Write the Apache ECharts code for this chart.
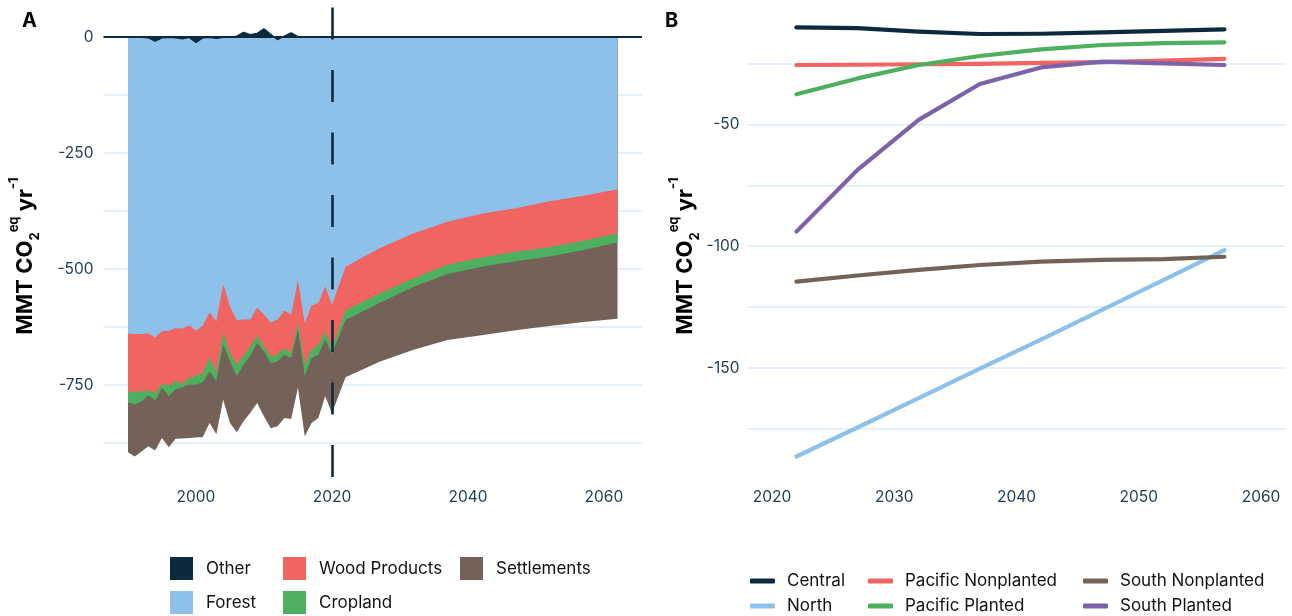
<!DOCTYPE html>
<html><head><meta charset="utf-8">
<script src="https://cdn.jsdelivr.net/npm/echarts@6/dist/echarts.min.js"></script>
<style>html,body{margin:0;padding:0;background:#fff}#c{width:1292px;height:616px}</style>
</head><body><div id="c"></div>
<script>
// ---------- Panel A data ----------
const yearsA = [1990,1991,1992,1993,1994,1995,1996,1997,1998,1999,
  2000,2001,2002,2003,2004,2005,2006,2007,2008,2009,
  2010,2011,2012,2013,2014,2015,2016,2017,2018,2019,
  2020,2022,2027,2032,2037,2042,2047,2052,2057,2062];
const forest = [-639,-640,-640,-639,-647,-634,-633,-627,-628,-621,
  -633,-622,-593,-613,-532,-580,-611,-608,-609,-583,
  -598,-615,-609,-590,-598,-523,-617,-578,-573,-537,
  -577,-495,-455,-423,-398,-381,-369,-354,-342,-328];
const woodProducts = [-125,-125,-123,-123,-120,-113,-118,-115,-119,-114,
  -97,-102,-97,-110,-106,-101,-95,-79,-58,-61,
  -69,-73,-76,-80,-83,-93,-89,-96,-90,-97,
  -93,-94,-98,-97,-93,-94,-94,-99,-97,-95];
const cropland = [-23,-27,-22,-10,-17,-9,-23,-17,-8,-14,
  -19,-20,-31,-19,-25,-18,-25,-19,-20,-15,
  -10,-15,-14,-15,-11,-15,-25,-18,-22,-18,
  -12,-21,-20,-18,-20,-20,-20,-20,-20,-20];
const settlements = [-108,-112,-108,-110,-107,-108,-110,-107,-110,-115,
  -114,-118,-111,-114,-119,-133,-121,-122,-123,-130,
  -141,-140,-140,-136,-131,-125,-130,-140,-136,-122,
  -129,-123,-127,-136,-142,-148,-149,-150,-155,-164];
const other = [0,0,-1,-2,-9,-2,-1,-2,-4,-1,
  -12,-2,-1,-3,-1,0,2,10,5,8,
  18,6,-6,2,9,1,0,0,0,0,
  -1,0,0,0,0,0,0,0,0,0];
const xTicksA = [2000,2020,2040,2060];
const yLabelsA = [0,-250,-500,-750];
const yGridA = [-875,-750,-625,-500,-375,-250,-125,0];
const projectionStart = 2020;

// ---------- Panel B data ----------
const yearsB = [2022,2027,2032,2037,2042,2047,2052,2057];
const central = [-10.3,-10.6,-12.0,-13.0,-12.9,-12.3,-11.7,-11.1];
const north = [-186.2,-174.3,-162.3,-150.2,-138.3,-126.1,-113.9,-101.6];
const pacificNonplanted = [-25.7,-25.6,-25.4,-25.2,-24.8,-24.5,-23.9,-23.2];
const pacificPlanted = [-37.7,-31.2,-25.7,-22.0,-19.3,-17.5,-16.7,-16.4];
const southNonplanted = [-114.5,-112.0,-109.7,-107.7,-106.3,-105.6,-105.3,-104.3];
const southPlanted = [-94.0,-68.7,-48.2,-33.5,-26.7,-24.3,-25.0,-25.7];
const xTicksB = [2020,2030,2040,2050,2060];
const yLabelsB = [-50,-100,-150];
const yGridB = [-175,-150,-125,-100,-75,-50,-25];

// ---------- styling ----------
const C = {
  other:'#0c2a3e', forest:'#8ec1e9', wood:'#f06562', crop:'#4cb05e', settle:'#746259',
  purple:'#7a63aa', grid:'#deeaf8', tick:'#1f3a56'
};
const FONT = 'Inter';
const pairs = (xs, ys) => xs.map((x, i) => [x, ys[i]]);

// stacking (negative values stack downward from the forest layer)
const addArr = (a, b) => a.map((v, i) => v + b[i]);
const cumWood = addArr(forest, woodProducts);
const cumCrop = addArr(cumWood, cropland);
const cumSettle = addArr(cumCrop, settlements);

function areaSeries(name, data, color) {
  return { name, type:'line', xAxisIndex:0, yAxisIndex:0, symbol:'none',
    data: pairs(yearsA, data), itemStyle:{color}, lineStyle:{width:0},
    areaStyle:{color, opacity:1}, emphasis:{disabled:true}, silent:true };
}
function lineSeries(name, data, color) {
  return { name, type:'line', xAxisIndex:1, yAxisIndex:1, symbol:'none',
    data: pairs(yearsB, data), itemStyle:{color},
    lineStyle:{width:4.2, color, cap:'round', join:'round'}, emphasis:{disabled:true}, silent:true };
}
function legendItem(name, left, top, icon, w, h, pad) {
  return { data:[name], left, top, padding:0, icon, itemWidth:w, itemHeight:h,
    selectedMode:false, itemStyle:{borderWidth:0},
    textStyle:{fontFamily:FONT, fontSize:17, color:'#111', padding:[0,0,0,pad], lineHeight:20} };
}
function yTitle(x, y) {
  return { type:'text', x, y, rotation:Math.PI/2, silent:true,
    style:{ text:'{b|MMT CO}{sub|2}{sup|eq}{b| yr}{sup|-1}', align:'center', verticalAlign:'middle',
      rich:{
        b:{fontSize:22, fontWeight:'bold', fontFamily:FONT, fill:'#000', lineHeight:34, verticalAlign:'middle'},
        sub:{fontSize:13, fontWeight:'bold', fontFamily:FONT, fill:'#000', lineHeight:14, verticalAlign:'bottom'},
        sup:{fontSize:13, fontWeight:'bold', fontFamily:FONT, fill:'#000', lineHeight:14, verticalAlign:'top'}
      } } };
}
const axisLabelStyle = {fontFamily:FONT, fontSize:15.5, color:C.tick, formatter:(v) => String(v)};

const option = {
  animation:false,
  backgroundColor:'#fff',
  grid:[
    {left:103.5, top:7.5, width:538.5, height:470},
    {left:747.5, top:7.5, width:538, height:470}
  ],
  xAxis:[
    {type:'value', gridIndex:0, min:1986.4, max:2065.6, axisLine:{show:false}, axisTick:{show:false},
     splitLine:{show:false}, axisLabel:{...axisLabelStyle, margin:12, customValues:xTicksA}},
    {type:'value', gridIndex:1, min:2018, max:2062, axisLine:{show:false}, axisTick:{show:false},
     splitLine:{show:false}, axisLabel:{...axisLabelStyle, margin:12, customValues:xTicksB}}
  ],
  yAxis:[
    {type:'value', gridIndex:0, min:-949.3, max:63.6, axisLine:{show:false},
     axisTick:{show:false, customValues:yGridA},
     splitLine:{show:true, lineStyle:{color:C.grid, width:1.5}},
     axisLabel:{...axisLabelStyle, margin:10, customValues:yLabelsA}},
    {type:'value', gridIndex:1, min:-194.8, max:-2.13, axisLine:{show:false},
     axisTick:{show:false, customValues:yGridB},
     splitLine:{show:true, lineStyle:{color:C.grid, width:1.5}},
     axisLabel:{...axisLabelStyle, margin:8, customValues:yLabelsB}}
  ],
  legend:[
    legendItem('Other', 170, 557, 'rect', 23, 23, 8),
    legendItem('Forest', 170, 591, 'rect', 23, 23, 8),
    legendItem('Wood Products', 283, 557, 'rect', 23, 23, 8),
    legendItem('Cropland', 283, 591, 'rect', 23, 23, 8),
    legendItem('Settlements', 460, 557, 'rect', 23, 23, 8),
    legendItem('Central', 750, 571, 'roundRect', 25, 5, 7),
    legendItem('North', 750, 596, 'roundRect', 25, 5, 7),
    legendItem('Pacific Nonplanted', 868, 571, 'roundRect', 25, 5, 7),
    legendItem('Pacific Planted', 868, 596, 'roundRect', 25, 5, 7),
    legendItem('South Nonplanted', 1083, 571, 'roundRect', 25, 5, 7),
    legendItem('South Planted', 1083, 596, 'roundRect', 25, 5, 7)
  ],
  graphic:[
    {type:'text', left:22, top:11, silent:true, style:{text:'A', fontSize:20, fontWeight:'bold', fontFamily:FONT, fill:'#000'}},
    {type:'text', left:665, top:11, silent:true, style:{text:'B', fontSize:20, fontWeight:'bold', fontFamily:FONT, fill:'#000'}},
    yTitle(25, 256),
    yTitle(685, 256)
  ],
  series:[
    areaSeries('Settlements', cumSettle, C.settle),
    areaSeries('Cropland', cumCrop, C.crop),
    areaSeries('Wood Products', cumWood, C.wood),
    areaSeries('Forest', forest, C.forest),
    { name:'Other', type:'line', xAxisIndex:0, yAxisIndex:0, symbol:'none', silent:true,
      data:pairs(yearsA, other), itemStyle:{color:C.other}, lineStyle:{width:1.2, color:C.other},
      areaStyle:{color:C.other, opacity:1}, emphasis:{disabled:true},
      markLine:{ silent:true, symbol:'none', label:{show:false}, animation:false,
        data:[
          [{coord:[1986.4,0], lineStyle:{type:'solid', width:2.2, color:C.other}}, {coord:[2065.6,0]}],
          [{coord:[projectionStart,63.6], lineStyle:{type:[32,30.5], width:2.6, color:C.other}}, {coord:[projectionStart,-949.3]}]
        ] } },
    lineSeries('Central', central, C.other),
    lineSeries('North', north, C.forest),
    lineSeries('Pacific Nonplanted', pacificNonplanted, C.wood),
    lineSeries('Pacific Planted', pacificPlanted, C.crop),
    lineSeries('South Nonplanted', southNonplanted, C.settle),
    lineSeries('South Planted', southPlanted, C.purple)
  ]
};
const chart = echarts.init(document.getElementById('c'), null, {renderer:'canvas'});
chart.setOption(option);
</script></body></html>
